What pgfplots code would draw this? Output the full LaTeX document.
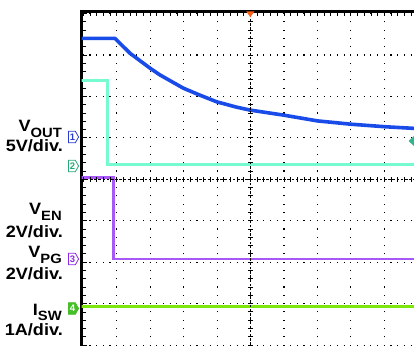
\documentclass[border=0pt]{standalone}
\usepackage{pgfplots}
\pgfplotsset{compat=1.18}
\usepackage{fontspec}
\setmainfont{Liberation Sans}
\newfontfamily\labfont[FakeStretch=1.1]{Liberation Sans}
\definecolor{chone}{RGB}{25,75,232}
\definecolor{chtwo}{RGB}{118,250,208}
\definecolor{chthree}{RGB}{168,88,246}
\definecolor{chfour}{RGB}{125,230,12}
\definecolor{mkone}{RGB}{40,60,210}
\definecolor{mktwo}{RGB}{40,170,120}
\definecolor{mkthree}{RGB}{140,40,230}
\definecolor{mkfour}{RGB}{70,190,40}
\definecolor{trigor}{RGB}{255,95,20}
\definecolor{trigte}{RGB}{50,180,140}
\newcommand\lbig[1]{{\labfont\bfseries\fontsize{16.5}{16.5}\selectfont #1}}
\newcommand\lsub[1]{\raisebox{-5.8bp}{\labfont\bfseries\fontsize{13.5}{13.5}\selectfont #1}}
\newcommand\chmark[5]{%
  \begin{scope}[shift={(0,#1bp)}]
    \draw[#2, line width=0.8bp, fill=#4] (68.5bp,-5.8bp) -- (75.3bp,-5.8bp) -- (78.6bp,0bp) -- (75.3bp,5.8bp) -- (68.5bp,5.8bp) -- cycle;
    \node[inner sep=0pt, text=#5] at (72.6bp,0bp) {\fontsize{9.5}{9.5}\selectfont\bfseries #3};
  \end{scope}}
\begin{document}
\begin{tikzpicture}
\useasboundingbox (0,0) rectangle (414bp,346bp);
\fill[white] (0,0) rectangle (414bp,346bp);
\begin{axis}[
  at={(81.6bp,-3.2bp)}, anchor=south west,
  scale only axis, width=336.15bp, height=337.7bp,
  xmin=-0.05, xmax=10, ymin=-4.1, ymax=4.05,
  axis line style={line width=3bp, black},
  xtick={0,...,10}, ytick={-4,...,4},
  minor x tick num=4, minor y tick num=4,
  xtick pos=right, ytick pos=left,
  tick align=inside,
  major tick length=5bp, minor tick length=4.5bp,
  tick style={black, line width=0.8bp},
  xticklabels={}, yticklabels={},
  clip mode=individual,
]
% grid
\pgfplotsinvokeforeach{1,2,3,4,6,7,8,9}{
  \draw[black, line width=1.1bp, dash pattern=on 1.1bp off 7.188bp, dash phase=0.55bp] (axis cs:#1,-4) -- (axis cs:#1,4.05);
}
\pgfplotsinvokeforeach{-4,-3,-2,-1,1,2,3,4}{
  \draw[black, line width=1.1bp, dash pattern=on 1.1bp off 5.59bp, dash phase=0.55bp] (axis cs:0,#1) -- (axis cs:10,#1);
}
% traces
\addplot[chfour, line width=3.2bp] coordinates {(-0.1,-3.07) (10.1,-3.07)};
\addplot[chthree, line width=2.6bp, line join=miter] coordinates {(-0.1,0.05) (0.90,0.05) (0.90,-1.92) (10.1,-1.92)};
\addplot[chtwo, line width=2.6bp, line join=miter] coordinates {(-0.1,2.38) (0.72,2.38) (0.72,0.36) (10.1,0.36)};
\addplot[chone, line width=3.6bp, line join=round] coordinates {
 (-0.1,3.40) (0.95,3.40) (1.40,3.04) (2.00,2.68) (2.29,2.52) (2.99,2.20)
 (3.49,2.03) (3.99,1.87) (4.59,1.74) (4.99,1.67) (5.98,1.55) (7.00,1.41)
 (8.00,1.33) (9.00,1.27) (9.87,1.23) (10.1,1.22)};
% centre lines
\draw[black, line width=1bp, dash pattern=on 2.6bp off 1.6bp] (axis cs:5,-4.1) -- (axis cs:5,4.05);
\draw[black, line width=4.5bp, dash pattern=on 0.9bp off 7.388bp, dash phase=0.45bp] (axis cs:5,-4) -- (axis cs:5,4.05);
\draw[black, line width=1bp, dash pattern=on 2.6bp off 1.6bp] (axis cs:-0.05,0) -- (axis cs:10,0);
\draw[black, line width=4.5bp, dash pattern=on 0.9bp off 5.79bp, dash phase=0.45bp] (axis cs:0,0) -- (axis cs:10,0);
\end{axis}
% trigger markers
\fill[trigor] (246.3bp,334.5bp) -- (254.3bp,334.5bp) -- (250.3bp,328.8bp) -- cycle;
\fill[trigte] (414.5bp,210.5bp) -- (414.5bp,199.5bp) -- (408.5bp,205bp) -- cycle;
% channel markers
\chmark{209}{mkone}{1}{white}{mkone}
\chmark{180}{mktwo}{2}{white}{mktwo}
\chmark{87}{mkthree}{3}{white}{mkthree}
\chmark{37.5}{mkfour}{4}{mkfour}{white}
% labels
\node[anchor=base east, inner sep=0pt] at (62bp,214.3bp) {\lbig{V}\lsub{OUT}};
\node[anchor=base east, inner sep=0pt] at (63bp,194.3bp) {\lbig{5V/div.}};
\node[anchor=base east, inner sep=0pt] at (62bp,131bp) {\lbig{V}\lsub{EN}};
\node[anchor=base east, inner sep=0pt] at (63bp,108bp) {\lbig{2V/div.}};
\node[anchor=base east, inner sep=0pt] at (62bp,88bp) {\lbig{V}\lsub{PG}};
\node[anchor=base east, inner sep=0pt] at (63bp,66bp) {\lbig{2V/div.}};
\node[anchor=base east, inner sep=0pt] at (62bp,31bp) {\lbig{I}\lsub{SW}};
\node[anchor=base east, inner sep=0pt] at (63bp,11bp) {\lbig{1A/div.}};
\end{tikzpicture}
\end{document}
